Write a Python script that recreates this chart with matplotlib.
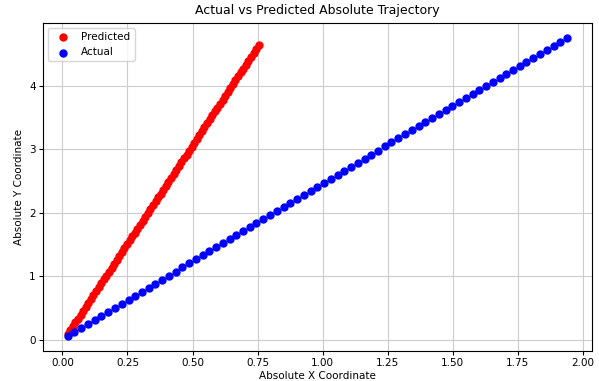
import matplotlib
matplotlib.use("Agg")
import matplotlib.pyplot as plt

# Predicted trajectory (absolute coordinates)
pred_x = [0.020, 0.030, 0.040, 0.050, 0.060, 0.070, 0.080, 0.090, 0.099, 0.109,
          0.119, 0.129, 0.139, 0.149, 0.159, 0.169, 0.179, 0.189, 0.199, 0.209,
          0.219, 0.229, 0.238, 0.248, 0.258, 0.268, 0.278, 0.288, 0.298, 0.308,
          0.318, 0.328, 0.338, 0.348, 0.358, 0.368, 0.377, 0.387, 0.397, 0.407,
          0.417, 0.427, 0.437, 0.447, 0.457, 0.467, 0.477, 0.487, 0.497, 0.507,
          0.517, 0.526, 0.536, 0.546, 0.556, 0.566, 0.576, 0.586, 0.596, 0.606,
          0.616, 0.626, 0.636, 0.646, 0.656, 0.665, 0.675, 0.685, 0.695, 0.705,
          0.715, 0.725, 0.735, 0.745, 0.755]
pred_y = [0.090, 0.152, 0.213, 0.275, 0.336, 0.398, 0.459, 0.521, 0.582, 0.644,
          0.705, 0.767, 0.828, 0.890, 0.951, 1.013, 1.074, 1.136, 1.197, 1.259,
          1.320, 1.382, 1.443, 1.505, 1.566, 1.628, 1.689, 1.751, 1.812, 1.874,
          1.935, 1.997, 2.058, 2.120, 2.181, 2.243, 2.304, 2.366, 2.427, 2.489,
          2.550, 2.612, 2.673, 2.735, 2.796, 2.858, 2.919, 2.981, 3.042, 3.104,
          3.165, 3.227, 3.288, 3.350, 3.411, 3.473, 3.534, 3.596, 3.657, 3.719,
          3.780, 3.842, 3.903, 3.965, 4.026, 4.088, 4.149, 4.211, 4.272, 4.334,
          4.395, 4.457, 4.518, 4.580, 4.641]

# Actual trajectory (absolute coordinates)
act_x = [0.020, 0.046, 0.072, 0.098, 0.124, 0.150, 0.176, 0.202, 0.228, 0.254,
         0.279, 0.305, 0.331, 0.357, 0.383, 0.409, 0.435, 0.461, 0.487, 0.513,
         0.539, 0.565, 0.591, 0.617, 0.643, 0.669, 0.695, 0.721, 0.746, 0.772,
         0.798, 0.824, 0.850, 0.876, 0.902, 0.928, 0.954, 0.980, 1.006, 1.032,
         1.058, 1.084, 1.110, 1.136, 1.162, 1.188, 1.214, 1.239, 1.265, 1.291,
         1.317, 1.343, 1.369, 1.395, 1.421, 1.447, 1.473, 1.499, 1.525, 1.551,
         1.577, 1.603, 1.629, 1.655, 1.681, 1.707, 1.732, 1.758, 1.784, 1.810,
         1.836, 1.862, 1.888, 1.914, 1.940]
act_y = [0.060, 0.124, 0.187, 0.251, 0.314, 0.378, 0.441, 0.505, 0.568, 0.632,
         0.695, 0.759, 0.822, 0.886, 0.949, 1.013, 1.076, 1.140, 1.203, 1.267,
         1.330, 1.394, 1.457, 1.521, 1.584, 1.648, 1.711, 1.775, 1.838, 1.902,
         1.965, 2.029, 2.092, 2.156, 2.219, 2.283, 2.346, 2.410, 2.473, 2.537,
         2.600, 2.664, 2.727, 2.791, 2.854, 2.918, 2.981, 3.045, 3.108, 3.172,
         3.235, 3.299, 3.362, 3.426, 3.489, 3.553, 3.616, 3.680, 3.743, 3.807,
         3.870, 3.934, 3.997, 4.061, 4.124, 4.188, 4.251, 4.315, 4.378, 4.442,
         4.505, 4.569, 4.632, 4.696, 4.759]

fig = plt.figure(figsize=(5.99, 3.81), dpi=100)
ax = fig.add_axes([0.0713, 0.0787, 0.917, 0.8617])

ax.scatter(pred_x, pred_y, s=25, color="red", label="Predicted", zorder=3)
ax.scatter(act_x, act_y, s=25, color="blue", label="Actual", zorder=3)

ax.set_title("Actual vs Predicted Absolute Trajectory", fontsize=9)
ax.set_xlabel("Absolute X Coordinate", fontsize=7.5, labelpad=2)
ax.set_ylabel("Absolute Y Coordinate", fontsize=7.5, labelpad=4)
ax.tick_params(labelsize=7.5, length=3, pad=2)
ax.grid(True, color="#cccccc", linewidth=0.8)
ax.set_axisbelow(True)
ax.legend(loc="upper left", fontsize=7.5)

fig.savefig("out.png", dpi=100)
